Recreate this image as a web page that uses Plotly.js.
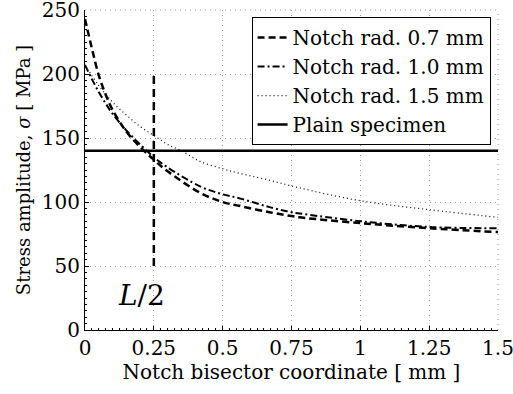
<!DOCTYPE html>
<html>
<head>
<meta charset="utf-8">
<script src="https://cdn.plot.ly/plotly-3.0.1.min.js"></script>
<style>
html,body{margin:0;padding:0;background:#fff;}
#chart{width:513px;height:394px;}
#chart text{font-family:"DejaVu Serif","Liberation Serif","Times New Roman",serif !important;}
</style>
</head>
<body>
<div id="chart"></div>
<script>
// Notch bisector coordinate [mm]
const x07 = [0, 0.025, 0.05, 0.075, 0.1, 0.15, 0.2, 0.25, 0.3, 0.42, 0.5, 0.56, 0.67, 0.75, 0.78, 1.0, 1.25, 1.5];
const y07 = [243, 220, 199, 184, 172, 155, 143, 133, 124, 107, 100, 97, 92, 89, 88, 83.5, 79.5, 76.5];

const x10 = [0, 0.025, 0.05, 0.075, 0.1, 0.15, 0.2, 0.25, 0.3, 0.42, 0.5, 0.56, 0.67, 0.75, 0.78, 1.0, 1.25, 1.5];
const y10 = [207, 196, 186, 177, 169, 156, 145, 135, 127, 112, 106, 103, 96, 92, 91, 85, 80.5, 79.5];

const x15 = [0, 0.05, 0.1, 0.15, 0.2, 0.25, 0.3, 0.35, 0.42, 0.5, 0.56, 0.67, 0.78, 1.0, 1.25, 1.5];
const y15 = [207, 191, 178, 168, 159, 152, 145, 140, 131.5, 126, 122.5, 117, 111, 101, 94, 88];

const xPlain = [0, 1.5];
const yPlain = [140, 140];

const xHalfL = [0.25, 0.25];
const yHalfL = [50, 200];

const seriesNames = ["Notch rad. 0.7 mm", "Notch rad. 1.0 mm", "Notch rad. 1.5 mm", "Plain specimen"];
const xTicks = [0, 0.25, 0.5, 0.75, 1, 1.25, 1.5];
const xTickText = ["0", "0.25", "0.5", "0.75", "1", "1.25", "1.5"];
const yTicks = [0, 50, 100, 150, 200, 250];
const yTickText = ["0", "50", "100", "150", "200", "250"];

const font = "DejaVu Serif, Liberation Serif, serif";
const gridStyle = {color: "#999", width: 1, dash: "1px,4px"};

const traces = [
  {x: x07, y: y07, name: seriesNames[0], mode: "lines", line: {color: "#000", width: 2.5, dash: "7px,4px", shape: "spline"}},
  {x: x10, y: y10, name: seriesNames[1], mode: "lines", line: {color: "#000", width: 2, dash: "7px,3px,2px,3px", shape: "spline"}},
  {x: x15, y: y15, name: seriesNames[2], mode: "lines", line: {color: "#111", width: 1.3, dash: "1px,3px", shape: "spline"}},
  {x: xPlain, y: yPlain, name: seriesNames[3], mode: "lines", line: {color: "#000", width: 2.5}},
  {x: xHalfL, y: yHalfL, showlegend: false, mode: "lines", line: {color: "#000", width: 2.5, dash: "8px,5px"}}
];

const layout = {
  width: 513, height: 394,
  margin: {l: 85, r: 15, t: 10, b: 64, autoexpand: false},
  paper_bgcolor: "#ffffff", plot_bgcolor: "#ffffff",
  font: {family: font, size: 20, color: "#000"},
  showlegend: true,
  legend: {x: 0.982, xanchor: "right", y: 0.978, yanchor: "top", bgcolor: "#fff", bordercolor: "#000", borderwidth: 1, font: {family: font, size: 20, color: "#000"}, tracegroupgap: 0},
  xaxis: {
    range: [0, 1.5], tickmode: "array", tickvals: xTicks, ticktext: xTickText, ticklabeloverflow: "allow",
    showline: true, linecolor: "#000", linewidth: 1, ticks: "inside", ticklen: 4, tickcolor: "#000",
    showgrid: true, gridcolor: gridStyle.color, griddash: gridStyle.dash, gridwidth: 1, zeroline: false,
    minor: {ticks: "inside", ticklen: 2, dtick: 0.025, tickcolor: "#000", showgrid: false},
    tickfont: {family: font, size: 20, color: "#000"},
    title: {text: "Notch bisector coordinate [ mm ]", font: {family: font, size: 20, color: "#000"}, standoff: 4}
  },
  yaxis: {
    range: [0, 250], tickmode: "array", tickvals: yTicks, ticktext: yTickText, ticklabeloverflow: "allow",
    showline: true, linecolor: "#000", linewidth: 1, ticks: "inside", ticklen: 4, tickcolor: "#000",
    showgrid: true, gridcolor: gridStyle.color, griddash: gridStyle.dash, gridwidth: 1, zeroline: false,
    minor: {ticks: "inside", ticklen: 2, dtick: 5, tickcolor: "#000", showgrid: false},
    tickfont: {family: font, size: 20, color: "#000"},
    title: {text: "Stress amplitude, <i>σ</i> [ MPa ]", font: {family: font, size: 18, color: "#000"}, standoff: 6}
  },
  shapes: [
    {type: "line", xref: "paper", yref: "paper", x0: 0, x1: 1, y0: 1, y1: 1, line: gridStyle, layer: "below"},
    {type: "line", xref: "paper", yref: "paper", x0: 1, x1: 1, y0: 0, y1: 1, line: gridStyle, layer: "below"}
  ],
  annotations: [
    {x: 0.205, y: 27, xref: "x", yref: "y", text: "<i>L</i>/2", showarrow: false, font: {family: font, size: 28, color: "#000"}}
  ]
};

Plotly.newPlot("chart", traces, layout, {displayModeBar: false});
</script>
</body>
</html>
